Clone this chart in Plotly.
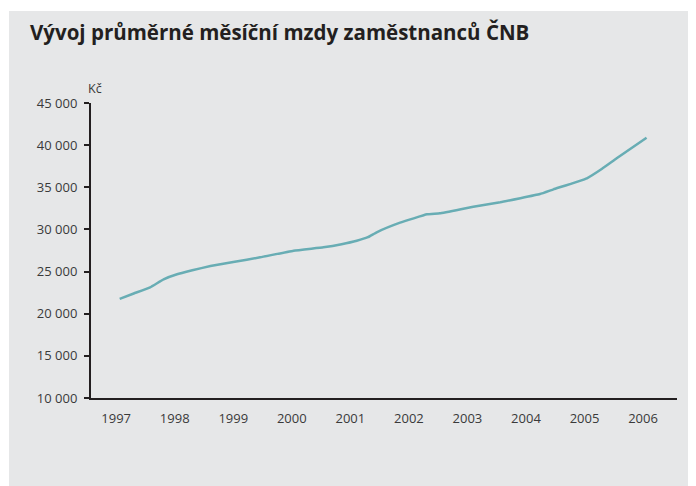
import plotly.graph_objects as go

# Data
period = [1997.06, 1997.30, 1997.58, 1997.81, 1998.04, 1998.30, 1998.61, 1999.00,
          1999.46, 2000.03, 2000.54, 2000.85, 2001.11, 2001.30, 2001.45, 2001.85,
          2002.31, 2002.53, 2003.10, 2003.56, 2004.24, 2004.47, 2005.04, 2005.30,
          2005.55, 2006.06]
wage = [21750, 22400, 23130, 24080, 24680, 25150, 25660, 26140,
        26690, 27480, 27880, 28250, 28660, 29080, 29660, 30800,
        31790, 31910, 32700, 33220, 34200, 34760, 36070, 37200,
        38440, 40880]
year_ticks = [1997, 1998, 1999, 2000, 2001, 2002, 2003, 2004, 2005, 2006]
year_labels = [str(y) for y in year_ticks]
y_ticks = [10000, 15000, 20000, 25000, 30000, 35000, 40000, 45000]

title_text = "Vývoj průměrné měsíční mzdy zaměstnanců ČNB"
unit_text = "Kč"

GRAY = "#e6e7e8"
AXIS = "#231f20"
TEXT = "#3a3a3a"
LINE = "#68adb4"
FONT = "Open Sans"

W, H = 688, 478
L, R, T, B = 83, 19, 95, 88
PW, PH = W - L - R, H - T - B

fig = go.Figure()
fig.add_trace(go.Scatter(
    x=period, y=wage, mode="lines",
    line=dict(color=LINE, width=2.5, shape="spline", smoothing=0.3),
    hoverinfo="skip", showlegend=False,
))

fig.update_layout(
    width=W, height=H,
    margin=dict(l=L, r=R, t=T, b=B),
    paper_bgcolor="white",
    plot_bgcolor=GRAY,
    separators=", ",
    font=dict(family=FONT, size=12, color=TEXT),
    title=dict(text="<b>" + title_text + "</b>", x=22 / W, xanchor="left",
               xref="container", y=1 - 25 / H, yanchor="middle", yref="container",
               font=dict(family=FONT, size=20.5, color=AXIS)),
    shapes=[dict(type="rect", xref="paper", yref="paper",
                 x0=-(L - 1) / PW, x1=(W - L + 2) / PW,
                 y0=-(B + 2) / PH, y1=1 + (T - 3) / PH,
                 fillcolor=GRAY, line=dict(width=0), layer="below")],
    annotations=[dict(text=unit_text, xref="paper", yref="paper", x=0, y=1,
                      xanchor="center", yanchor="bottom", xshift=4, yshift=4,
                      showarrow=False, font=dict(family=FONT, size=12.5, color=TEXT))],
)

fig.update_xaxes(
    range=[1996.57, 2006.58], tickmode="array", tickvals=year_ticks,
    ticktext=year_labels, showgrid=False, zeroline=False,
    showline=True, linecolor=AXIS, linewidth=2,
    ticks="outside", ticklen=7, tickcolor="rgba(0,0,0,0)",
    tickfont=dict(family=FONT, size=13, color=TEXT),
)
fig.update_yaxes(
    range=[10000, 45000], tickmode="array", tickvals=y_ticks,
    tickformat=",d", showgrid=False, zeroline=False,
    showline=True, linecolor=AXIS, linewidth=2,
    ticks="outside", ticklen=5, tickwidth=2, tickcolor=AXIS,
    ticklabelstandoff=4,
    tickfont=dict(family=FONT, size=13, color=TEXT),
)

fig.write_html("out.html")
